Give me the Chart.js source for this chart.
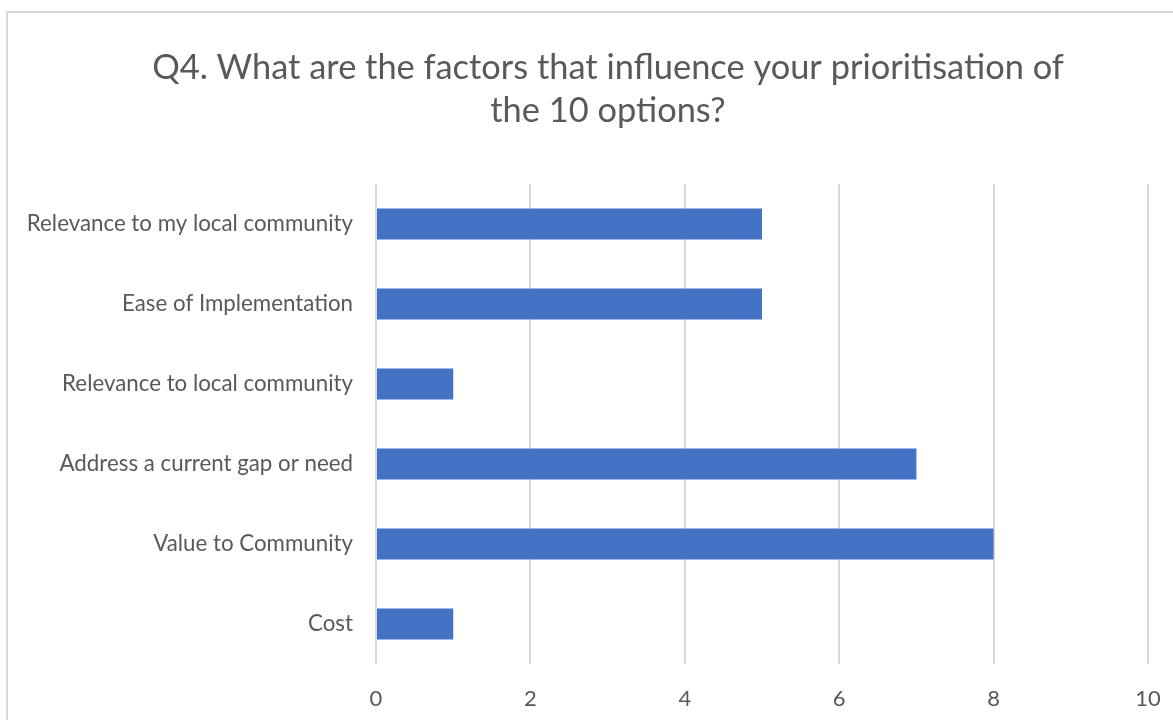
<!DOCTYPE html>
<html>
<head>
<meta charset="utf-8">
<script src="https://cdn.jsdelivr.net/npm/chart.js@4"></script>
<style>
  body { margin: 0; background: #fff; }
  #myChart { position: absolute; left: 0; top: 0; }
</style>
</head>
<body>
<canvas id="myChart" width="1173" height="720"></canvas>
<script>
// data
const factors = [
  'Relevance to my local community',
  'Ease of Implementation',
  'Relevance to local community',
  'Address a current gap or need',
  'Value to Community',
  'Cost'
]
const responses = [5, 5, 1, 7, 8, 1]
const titleLines = ['Q4. What are the factors that influence your prioritisation of', 'the 10 options?']

const textColor = '#595959'
const fontFamily = 'Lato, "Open Sans", sans-serif'

// light frame around the chart, like the Excel chart border
const frame = {
  id: 'frame',
  beforeDraw(chart) {
    const c = chart.ctx
    c.save()
    c.strokeStyle = '#d9d9d9'
    c.lineWidth = 2
    c.strokeRect(7, 12, chart.width + 10, chart.height + 10)
    c.restore()
  },
  // the original chart is wider than the crop, so its title sits right of centre
  afterLayout(chart) {
    if (chart.titleBlock) {
      chart.titleBlock.left += 34
      chart.titleBlock.right += 34
    }
  }
}

var ctx = document.getElementById('myChart')
var myChart = new Chart(ctx, {
  type: 'bar',
  data: {
    labels: factors,
    datasets: [{
      label: 'Responses',
      data: responses,
      backgroundColor: '#4472C4',
      borderWidth: 0,
      barPercentage: 0.39,
      categoryPercentage: 1
    }]
  },
  options: {
    indexAxis: 'y',
    responsive: false,
    animation: false,
    layout: { padding: { left: 0, right: 25, top: 0, bottom: 0 } },
    plugins: {
      legend: { display: false },
      tooltip: { enabled: false },
      title: {
        display: true,
        text: titleLines,
        color: textColor,
        font: { family: fontFamily, size: 34.4, weight: 'normal', lineHeight: 1.25 },
        padding: { top: 46, bottom: 52 }
      }
    },
    scales: {
      x: {
        min: 0,
        max: 10,
        ticks: { stepSize: 2, color: textColor, padding: 22, font: { family: fontFamily, size: 22 } },
        grid: { color: '#d9d9d9', lineWidth: 2, drawTicks: false },
        border: { display: false },
        afterFit(scale) {
          scale.height = 56
          scale.paddingLeft = 0
          scale.paddingRight = 0
        }
      },
      y: {
        ticks: { color: textColor, padding: 15, font: { family: fontFamily, size: 22.3 } },
        grid: { display: false },
        border: { display: false },
        afterFit(scale) { scale.width = 376 }
      }
    }
  },
  plugins: [frame]
})
</script>
</body>
</html>
